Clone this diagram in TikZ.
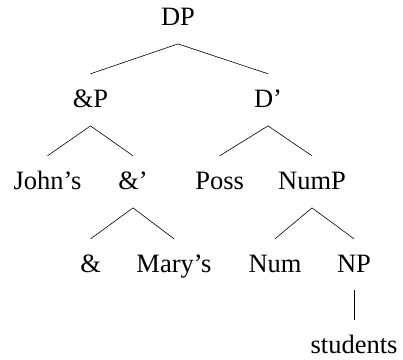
\documentclass[tikz,border=0pt]{standalone}
\usepackage{fontspec}
\setmainfont{Liberation Serif}
\begin{document}
\begin{tikzpicture}[x=1pt,y=-1pt,
  lab/.style={anchor=base,inner sep=0pt,text height=17pt,text depth=5pt,font=\fontsize{26.5}{30}\selectfont},
  edge/.style={line width=0.6pt}]
\useasboundingbox (0,0) rectangle (403,359);
\node[lab] (DP) at (178,25) {DP};
\node[lab] (AP) at (90.5,107) {\&P};
\node[lab] (Dbar) at (268,107) {D’};
\node[lab] (John) at (47.5,189) {John’s};
\node[lab] (Abar) at (133,189) {\&’};
\node[lab] (Poss) at (219.7,189) {Poss};
\node[lab] (NumP) at (312,189) {NumP};
\node[lab] (Amp) at (90.7,272) {\&};
\node[lab] (Mary) at (174,272) {Mary’s};
\node[lab] (Num) at (275,272) {Num};
\node[lab] (NP) at (354,272) {NP};
\node[lab,text depth=1pt] (stu) at (354,353) {students};
\foreach \p/\c in {DP/AP,DP/Dbar,AP/John,AP/Abar,Dbar/Poss,Dbar/NumP,Abar/Amp,Abar/Mary,NumP/Num,NumP/NP}
  \draw[edge] ([yshift=-13.7pt]\p.south) -- ([yshift=16pt]\c.north);
\draw[edge] ([yshift=-13pt]NP.south) -- ([yshift=16pt]stu.north);
\end{tikzpicture}
\end{document}
